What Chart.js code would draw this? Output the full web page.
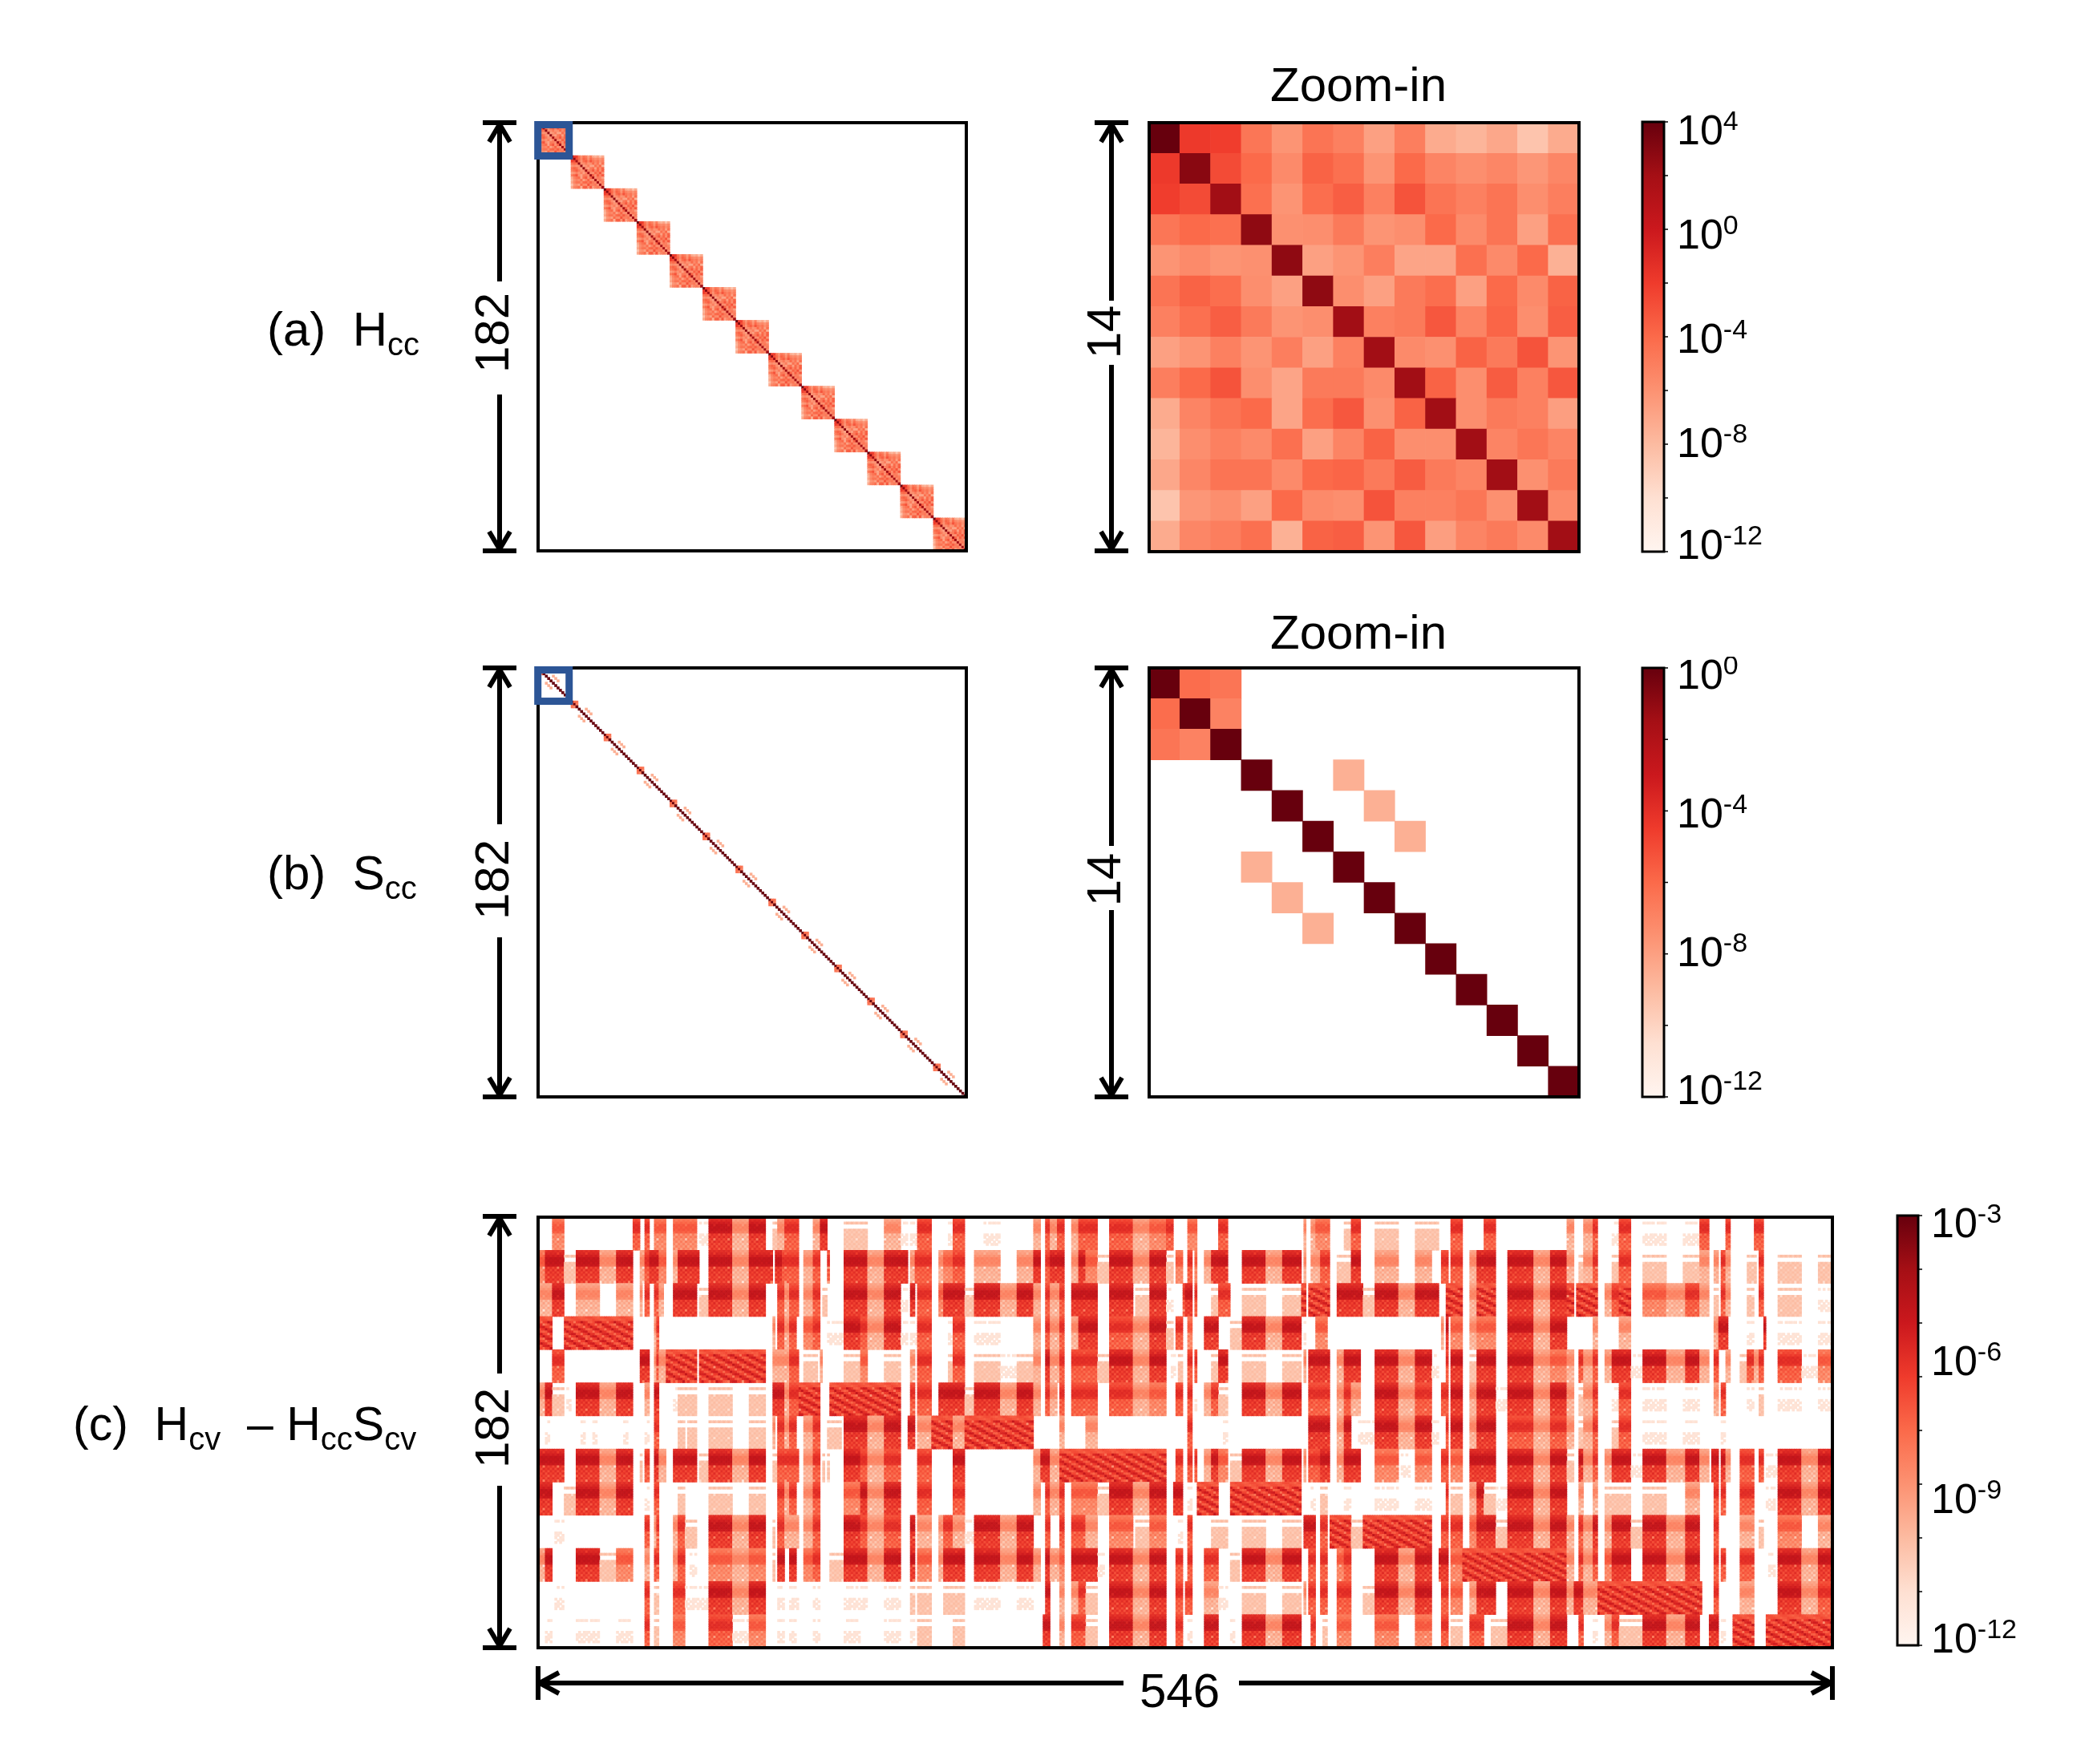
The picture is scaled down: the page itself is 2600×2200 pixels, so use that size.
<!DOCTYPE html>
<html><head><meta charset="utf-8">
<style>html,body{margin:0;padding:0;background:#fff}canvas{position:absolute}</style>
<script src="https://cdn.jsdelivr.net/npm/chart.js@4"></script>
</head><body>
<script>
// ---------- data (log10 of the magnitudes) ----------
const hccZoomLog = [
[4,-1.9,-2.1,-4.6,-6.1,-4.5,-5.1,-6.7,-5,-7.2,-7.7,-7,-8.5,-7.2],
[-1.9,2.9,-2.7,-4,-5.6,-3.7,-4.3,-6.1,-4,-5.3,-5.8,-5.4,-6.2,-5.4],
[-2.1,-2.7,2.1,-4.3,-6.1,-4.2,-3.5,-5.1,-3,-4.5,-5.1,-4.5,-5.8,-5],
[-4.6,-4,-4.3,2.7,-5.9,-5.8,-4.8,-6.1,-5.8,-4,-5.6,-4.5,-6.7,-4.3],
[-6.1,-5.6,-6.1,-5.9,2.7,-6.7,-6.1,-5,-6.9,-6.9,-4.3,-5.6,-4,-7.5],
[-4.5,-3.7,-4.2,-5.8,-6.7,2.7,-5.8,-6.7,-4.8,-4.2,-6.7,-4,-5.6,-3.7],
[-5.1,-4.3,-3.5,-4.8,-6.1,-5.8,2.1,-5.1,-4.8,-3.2,-5.3,-3.8,-5.8,-3.5],
[-6.7,-6.1,-5.1,-6.1,-5,-6.7,-5.1,2.1,-5.6,-5.9,-3.7,-4.8,-3,-6.1],
[-5,-4,-3,-5.8,-6.9,-4.8,-4.8,-5.6,2.1,-3.7,-5.8,-3.4,-5.1,-3.2],
[-7.2,-5.3,-4.5,-4,-6.9,-4.2,-3.2,-5.9,-3.7,2.1,-5.8,-4.8,-5.1,-6.6],
[-7.7,-5.8,-5.1,-5.6,-4.3,-6.7,-5.3,-3.7,-5.8,-5.8,2.1,-5.3,-4.6,-5.3],
[-7,-5.4,-4.5,-4.5,-5.6,-4,-3.8,-4.8,-3.4,-4.8,-5.3,2.1,-5.9,-4.8],
[-8.5,-6.2,-5.8,-6.7,-4,-5.6,-5.8,-3,-5.1,-5.1,-4.6,-5.9,2.1,-5.6],
[-7.2,-5.4,-5,-4.3,-7.5,-3.7,-3.5,-6.1,-3.2,-6.6,-5.3,-4.8,-5.6,2.1]];
const n=null, o=0, q=-8.6;
const sccZoomLog = [
[o,-6.1,-6.4,n,n,n,n,n,n,n,n,n,n,n],
[-6.1,o,-6.9,n,n,n,n,n,n,n,n,n,n,n],
[-6.4,-6.9,o,n,n,n,n,n,n,n,n,n,n,n],
[n,n,n,o,n,n,q,n,n,n,n,n,n,n],
[n,n,n,n,o,n,n,q,n,n,n,n,n,n],
[n,n,n,n,n,o,n,n,q,n,n,n,n,n],
[n,n,n,q,n,n,o,n,n,n,n,n,n,n],
[n,n,n,n,q,n,n,o,n,n,n,n,n,n],
[n,n,n,n,n,q,n,n,o,n,n,n,n,n],
[n,n,n,n,n,n,n,n,n,o,n,n,n,n],
[n,n,n,n,n,n,n,n,n,n,o,n,n,n],
[n,n,n,n,n,n,n,n,n,n,n,o,n,n],
[n,n,n,n,n,n,n,n,n,n,n,n,o,n],
[n,n,n,n,n,n,n,n,n,n,n,n,n,o]];

// Panel (c): for each of the 13 row blocks, runs [firstColumn, endColumn, levelCode]
const cvRow0=[[6,11,3],[40,43,4],[45,47,4],[49,54,3],[57,67,3],[68,72,0],[72,82,5],[82,89,2],[89,96,5],[99,101,1],[101,104,2],[104,110,4],[116,119,2],[119,122,5],[129,139,1],[146,153,2],[153,156,0],[157,160,0],[160,166,4],[173,175,0],[175,180,4],[188,195,0],[209,212,2],[214,216,4],[216,219,2],[219,222,4],[225,228,2],[228,236,4],[241,251,4],[251,258,2],[258,265,3],[265,268,4],[274,278,3],[287,291,4],[323,324,2],[326,328,2],[328,334,3],[340,343,1],[343,347,4],[353,363,1],[370,380,1],[385,390,4],[399,404,4],[434,437,2],[441,445,2],[445,447,4],[453,456,0],[456,461,4],[466,476,0],[483,490,0],[490,494,4],[501,503,4],[513,517,4]];
const cvRow1=[[0,3,3],[3,11,5],[11,16,1],[16,26,5],[26,33,2],[33,40,5],[43,45,2],[45,47,4],[47,51,5],[51,54,3],[57,59,2],[59,68,5],[72,82,5],[82,89,2],[89,99,5],[100,103,5],[103,110,4],[112,116,2],[116,119,4],[122,123,4],[129,139,5],[139,146,2],[146,156,5],[157,159,2],[159,166,4],[169,171,2],[171,175,3],[175,180,4],[184,195,2],[202,209,2],[209,212,5],[214,216,4],[216,222,5],[225,228,2],[228,231,5],[231,236,3],[236,241,1],[241,251,5],[251,258,2],[258,265,5],[265,268,1],[269,272,3],[274,276,4],[277,278,3],[281,284,2],[284,291,5],[297,307,5],[307,314,2],[314,322,5],[323,324,2],[326,330,2],[330,334,4],[337,343,1],[343,347,5],[353,363,2],[370,377,2],[381,384,4],[385,390,4],[393,396,2],[396,404,5],[409,420,5],[420,427,2],[427,434,5],[434,437,2],[439,441,1],[441,445,2],[445,447,4],[453,456,1],[456,461,4],[466,476,1],[483,490,1],[490,494,2],[496,498,2],[499,501,4],[501,503,2],[510,514,1],[515,517,4],[523,533,1],[540,546,1]];
const cvRow2=[[0,6,2],[6,11,5],[16,26,2],[33,40,2],[43,44,2],[45,47,4],[49,51,4],[51,53,2],[57,67,5],[68,72,1],[72,82,5],[82,89,2],[89,96,5],[101,104,4],[104,106,2],[106,110,4],[112,116,2],[116,119,4],[120,122,1],[129,139,5],[139,146,2],[146,153,5],[153,156,0],[157,159,5],[160,166,4],[169,171,3],[171,180,5],[180,184,1],[184,195,5],[195,202,2],[202,209,5],[209,212,2],[214,216,4],[216,220,2],[220,222,4],[225,236,5],[241,251,5],[252,258,1],[258,265,5],[265,268,0],[272,273,4],[273,276,5],[277,278,4],[284,287,1],[287,292,4],[297,307,1],[314,322,1],[322,324,9],[325,334,9],[337,348,5],[348,353,1],[353,363,5],[363,370,2],[370,380,5],[383,390,9],[393,396,2],[396,404,9],[409,420,5],[420,427,2],[427,434,5],[434,437,9],[438,447,9],[450,453,2],[453,456,4],[456,461,9],[466,476,3],[476,484,2],[484,490,4],[490,494,2],[496,498,1],[499,501,4],[501,503,2],[510,513,1],[515,517,4],[523,533,1],[540,546,0]];
const cvRow3=[[0,6,9],[11,40,9],[49,50,2],[50,51,4],[99,100,2],[101,104,4],[104,106,2],[106,109,4],[112,116,3],[116,119,4],[122,129,0],[129,136,5],[136,139,4],[139,146,2],[146,153,5],[153,156,0],[157,160,0],[160,166,4],[173,175,0],[175,180,4],[184,195,0],[209,212,2],[214,216,4],[216,220,2],[220,222,4],[225,228,2],[228,236,5],[241,251,4],[251,258,2],[258,265,5],[265,268,1],[269,272,4],[274,276,3],[281,287,5],[292,297,1],[297,307,5],[307,314,2],[314,322,5],[323,324,0],[328,333,3],[381,382,2],[383,384,5],[385,390,3],[393,396,2],[396,404,3],[409,420,5],[420,427,2],[427,434,5],[445,447,2],[456,461,2],[496,498,2],[498,502,5],[510,513,0],[517,518,5],[523,533,0],[540,546,0]];
const cvRow4=[[6,11,4],[43,47,5],[49,50,2],[50,51,4],[51,54,2],[54,67,9],[68,96,9],[99,101,2],[101,106,2],[106,110,4],[112,118,1],[119,120,2],[129,136,1],[136,139,3],[146,153,1],[157,159,2],[160,166,4],[173,175,1],[175,180,4],[184,195,1],[195,202,0],[202,209,1],[209,212,2],[214,216,5],[216,220,2],[220,222,4],[225,236,4],[236,241,1],[241,251,5],[251,258,2],[258,265,5],[267,269,0],[270,272,1],[274,276,4],[277,278,4],[284,287,1],[287,291,5],[297,307,1],[314,322,1],[323,324,2],[325,334,5],[337,340,2],[340,347,5],[353,363,5],[363,370,2],[370,377,5],[377,380,0],[383,384,4],[385,390,5],[393,396,1],[396,404,5],[409,420,5],[420,427,2],[427,434,3],[434,437,2],[439,441,4],[441,445,2],[445,447,4],[450,453,2],[453,461,5],[461,466,0],[466,476,5],[476,484,2],[484,490,5],[490,494,2],[496,498,4],[501,503,2],[507,510,1],[510,513,4],[513,515,2],[515,517,4],[523,533,4],[533,540,0],[540,546,3]];
const cvRow5=[[0,3,2],[3,6,5],[6,11,1],[12,14,0],[16,26,5],[26,33,2],[33,40,5],[45,47,2],[49,51,5],[57,59,0],[59,67,1],[72,82,1],[89,96,1],[99,104,5],[104,106,2],[106,110,4],[110,119,9],[123,153,9],[157,159,4],[160,166,4],[169,180,5],[180,184,1],[184,195,5],[195,202,2],[202,209,5],[209,212,2],[214,216,4],[216,219,2],[220,222,4],[225,236,4],[241,251,4],[251,258,2],[258,265,3],[269,272,4],[274,276,4],[277,278,0],[281,284,2],[284,287,4],[287,291,1],[297,307,5],[307,314,2],[314,322,5],[325,334,4],[337,340,2],[340,343,4],[343,347,2],[353,363,5],[363,370,2],[370,377,4],[381,384,4],[385,390,5],[393,396,2],[396,404,5],[404,409,0],[409,420,5],[420,427,2],[427,434,5],[434,437,2],[439,441,1],[441,445,2],[445,447,4],[453,456,0],[456,461,4],[466,476,0],[483,490,0],[496,498,2],[499,501,4],[510,513,0],[515,517,1],[523,533,0],[540,546,0]];
const cvRow6=[[3,5,0],[18,20,0],[23,25,0],[36,38,0],[45,47,0],[49,51,4],[59,62,1],[63,67,1],[72,82,1],[89,96,1],[99,100,2],[101,104,4],[104,106,2],[106,109,4],[112,116,2],[116,119,4],[122,128,1],[129,139,5],[139,146,2],[146,153,5],[156,159,5],[160,166,2],[166,175,9],[175,180,2],[180,209,9],[220,222,2],[231,236,2],[274,276,4],[289,291,0],[325,334,5],[337,340,2],[340,343,5],[346,353,0],[353,363,5],[363,370,2],[370,377,5],[377,380,0],[383,384,4],[385,390,5],[393,396,2],[396,404,5],[409,420,4],[420,427,2],[427,434,4],[434,437,2],[439,441,1],[441,445,2],[445,447,4],[453,456,1],[456,461,4],[466,476,0],[483,490,0],[499,501,0]];
const cvRow7=[[0,11,5],[16,26,5],[26,33,2],[33,40,5],[43,44,1],[45,47,4],[49,51,5],[51,54,2],[57,67,5],[68,72,1],[72,82,5],[82,89,2],[89,96,5],[99,101,1],[101,110,4],[112,116,2],[116,119,4],[120,121,1],[122,123,1],[129,136,5],[136,139,4],[139,146,2],[146,153,4],[160,166,4],[175,180,5],[209,212,2],[212,216,5],[216,220,2],[220,265,9],[269,272,4],[274,276,4],[277,278,4],[281,284,2],[284,287,5],[287,291,3],[292,297,1],[297,307,5],[307,314,2],[314,322,5],[323,324,2],[325,330,4],[330,334,5],[337,340,2],[340,347,5],[353,363,3],[364,368,0],[370,377,3],[381,384,4],[385,390,3],[393,404,5],[409,420,5],[420,427,2],[427,434,5],[434,437,1],[439,441,5],[441,445,2],[445,447,4],[450,453,2],[453,461,5],[461,466,0],[466,476,5],[476,484,2],[484,490,5],[490,494,2],[495,498,5],[499,501,5],[501,503,2],[507,513,4],[515,517,4],[518,523,0],[523,533,5],[533,540,2],[540,546,5]];
const cvRow8=[[0,6,5],[11,16,1],[16,26,5],[26,33,2],[33,40,5],[45,47,0],[49,51,4],[59,62,1],[72,82,1],[89,96,1],[101,104,4],[104,106,2],[106,109,4],[112,116,2],[116,119,4],[129,136,3],[136,139,5],[139,146,2],[146,153,5],[160,166,4],[175,180,4],[209,212,2],[214,216,4],[216,220,2],[220,222,4],[225,236,3],[236,241,1],[241,251,5],[251,258,2],[258,265,5],[268,272,5],[274,276,0],[278,287,9],[292,322,9],[326,328,0],[330,333,1],[340,343,0],[353,363,0],[370,377,0],[383,384,4],[385,390,1],[393,396,2],[396,399,5],[399,404,1],[404,409,0],[409,420,5],[420,427,2],[427,434,5],[439,441,2],[445,447,2],[450,461,1],[466,476,1],[484,490,2],[496,498,4],[499,501,4],[507,513,4],[518,522,0],[523,533,5],[533,540,2],[540,546,5]];
const cvRow9=[[7,11,0],[45,47,4],[49,50,2],[50,51,4],[57,59,2],[59,62,4],[62,67,1],[72,82,5],[82,89,2],[89,96,5],[99,100,1],[101,104,4],[104,110,2],[112,116,2],[116,119,4],[129,136,5],[136,139,4],[139,146,2],[146,153,4],[157,159,5],[160,166,2],[169,171,2],[171,175,4],[175,180,2],[180,184,0],[184,195,5],[195,202,2],[202,209,5],[214,216,4],[220,222,4],[225,231,4],[231,236,2],[241,251,3],[252,258,1],[258,265,3],[270,272,0],[274,276,4],[284,291,1],[297,307,1],[314,322,1],[323,328,5],[330,333,4],[334,343,9],[343,348,1],[348,377,9],[381,384,4],[385,390,4],[393,396,3],[396,404,5],[404,409,1],[409,420,5],[420,427,2],[427,434,5],[434,437,2],[439,441,4],[441,445,2],[445,447,5],[450,453,2],[453,461,5],[461,466,1],[466,476,5],[476,484,2],[484,490,5],[496,498,4],[507,513,2],[515,517,1],[523,533,3],[540,546,2]];
const cvRow10=[[0,3,2],[3,6,5],[16,26,5],[26,33,1],[33,40,3],[45,47,2],[49,51,4],[57,59,2],[59,62,4],[64,67,0],[72,82,3],[82,89,2],[89,96,3],[99,100,1],[101,104,5],[106,109,5],[112,116,3],[116,119,4],[123,129,1],[129,139,5],[139,146,2],[146,153,5],[157,159,5],[160,166,3],[169,171,2],[171,180,5],[184,195,5],[195,202,2],[202,209,5],[209,212,2],[214,216,5],[216,220,2],[220,222,3],[225,236,5],[236,239,0],[241,251,5],[251,258,2],[258,265,5],[269,272,4],[274,276,4],[281,287,4],[292,296,1],[297,307,5],[307,314,2],[314,322,5],[325,328,4],[330,333,4],[337,340,3],[340,343,4],[353,363,5],[363,370,2],[370,377,5],[380,384,5],[385,390,3],[390,434,9],[434,437,2],[439,441,4],[441,445,2],[445,447,4],[450,453,3],[453,461,5],[466,476,5],[476,484,2],[484,490,5],[496,498,4],[499,501,4],[507,513,4],[519,522,0],[523,533,5],[533,540,2],[540,546,5]];
const cvRow11=[[7,11,0],[45,47,4],[49,51,1],[57,62,4],[62,72,0],[72,82,5],[82,89,2],[89,96,5],[101,104,0],[106,110,0],[116,119,0],[129,139,0],[146,153,0],[157,159,1],[160,166,1],[171,180,1],[184,195,0],[202,209,0],[214,216,5],[220,222,2],[225,228,2],[228,231,4],[231,236,1],[241,251,5],[251,258,2],[258,265,5],[269,272,4],[273,276,4],[281,287,2],[287,291,0],[297,307,1],[314,322,1],[323,324,2],[325,328,4],[330,333,4],[337,343,4],[348,353,1],[353,363,5],[363,370,2],[370,377,5],[381,384,4],[385,390,3],[393,396,2],[396,404,5],[409,420,5],[420,427,2],[427,434,5],[434,437,2],[437,441,5],[441,447,2],[447,491,9],[496,498,4],[507,513,2],[523,533,5],[533,540,2],[540,546,4]];
const cvRow12=[[3,6,0],[16,26,0],[33,40,0],[45,47,4],[49,51,1],[57,62,3],[72,82,4],[82,89,0],[89,96,3],[101,104,0],[106,109,0],[116,119,0],[129,136,0],[146,153,0],[157,159,0],[160,166,1],[175,180,1],[213,216,5],[220,222,2],[225,231,4],[231,236,1],[241,251,5],[251,258,2],[258,265,5],[269,272,4],[274,276,0],[281,287,5],[292,294,0],[297,307,5],[307,314,2],[314,322,5],[326,328,4],[331,333,1],[337,343,3],[353,363,3],[370,377,3],[381,384,4],[385,390,1],[393,399,4],[402,409,1],[409,420,5],[420,427,2],[427,434,5],[439,441,4],[445,447,0],[450,453,2],[453,456,4],[456,466,1],[466,476,5],[476,484,2],[484,490,5],[494,498,5],[499,501,0],[504,513,9],[518,546,9]];
const cvRows=[cvRow0,cvRow1,cvRow2,cvRow3,cvRow4,cvRow5,cvRow6,cvRow7,cvRow8,cvRow9,cvRow10,cvRow11,cvRow12];
// log10 level of each code 0..5 (faint, pale, light, mid, red, dark)
const cvLevels=[-11,-9.9,-8.2,-7,-5.9,-5];
const cvDiagLevel=-6.1;
// log10 shift of the 14 rows inside a block (seen in every block)
const cvRowShape=[-.9,-.7,-.4,0,0,0,-.2,-1.1,-1,-1.2,-1.1,-1.3,-1.2,-1.3];
const cvFaintRows=[2,7,8,9,10,11];
const cvPaleRows=[2,5,6,7,8,9,10,11,12,13];
// log10 weave seen as dither in the blocks, and the stripe profile of the diagonal blocks
const cvWeave=[[0,-.5,.2,-.7,.1,-.4],[-.6,.2,-.3,.1,-.8,.2],[.2,-.4,.1,-.6,.2,-.3],[-.5,.1,-1.8,.2,-.4,.1],[.1,-.7,.2,-.3,.1,-.6],[-.3,.2,-.5,.1,-.6,.2]];
const cvStripe=[1.1,.6,-.2,-.9,-1.7,-.6,.2];
const atomSize=14, atomCount=13, cvCols=546;

const hccTicks=[4,2,0,-2,-4,-6,-8,-10,-12], hccLabels=[4,0,-4,-8,-12];
const sccTicks=[0,-2,-4,-6,-8,-10,-12], sccLabels=[0,-4,-8,-12];
const cvTicks=[-3,-4.125,-5.25,-6.375,-7.5,-8.625,-9.75,-10.875,-12], cvLabels=[-3,-6,-9,-12];
const redsStops=['#fff5f0','#fee0d2','#fcbba1','#fc9272','#fb6a4a','#ef3b2c','#cb181d','#a50f15','#67000d'];

// ---------- helpers ----------
const FONT='"Liberation Sans",Arial,sans-serif', PAD=14;
const rgb=redsStops.map(h=>[1,3,5].map(i=>parseInt(h.substr(i,2),16)));
function reds(p){p=Math.max(0,Math.min(1,p))*8;const i=Math.min(7,Math.floor(p)),f=p-i;
  const c=[0,1,2].map(k=>Math.round(rgb[i][k]+(rgb[i+1][k]-rgb[i][k])*f));return `rgb(${c[0]},${c[1]},${c[2]})`;}
function cellsFromMatrix(m,repeat,lo,hi){const data=[],colors=[];
  for(let b=0;b<repeat;b++)m.forEach((row,r)=>row.forEach((v,c)=>{if(v===null)return;
    data.push({x:b*m.length+c+.5,y:[b*m.length+r,b*m.length+r+1]});colors.push(reds((v-lo)/(hi-lo)));}));
  return {data,colors};}
function cvCells(){const data=[],colors=[];
  cvRows.forEach((runs,R)=>runs.forEach(([s,e,code])=>{for(let c=s;c<e;c++)for(let r=0;r<atomSize;r++){
    const t=cvWeave[(R*atomSize+r)%6][c%6];let v;
    if(code===9){v=cvDiagLevel+cvStripe[((c-r*2)%7+7)%7]*(r<2?.2:.8)+t*(r<2?.15:.7)+(r<2?-.8:.1);}
    else if(code===0){if(!cvFaintRows.includes(r)||t<-.45)continue;v=cvLevels[0]+t*.4;}
    else if(code===1){if(!cvPaleRows.includes(r))continue;v=cvLevels[1]+t*.5;}
    else v=cvLevels[code]+cvRowShape[r]+(r>=7?t:t*.35);
    data.push({x:c+.5,y:[R*atomSize+r,R*atomSize+r+1]});colors.push(reds((v+12)/9));
  }}));return {data,colors};}
function canvasAt(x,y,w,h){const c=document.createElement('canvas');c.width=w;c.height=h;
  c.style.cssText=`left:${x}px;top:${y}px;width:${w}px;height:${h}px`;document.body.appendChild(c);return c;}
const framePlugin={id:'frame',afterDraw(ch,a,o){const {left,top,width,height}=ch.chartArea,x=ch.ctx;
  x.save();x.strokeStyle='#000';x.lineWidth=4;x.strokeRect(left,top,width,height);
  const b=o.box;if(b){const sx=ch.scales.x,sy=ch.scales.y;x.strokeStyle='#2c5596';x.lineWidth=9;
    x.strokeRect(sx.getPixelForValue(b[0]),sy.getPixelForValue(b[2]),sx.getPixelForValue(b[1])-sx.getPixelForValue(b[0]),sy.getPixelForValue(b[3])-sy.getPixelForValue(b[2]));}
  x.restore();}};
function heat(L,T,W,H,cols,rows,cells,box){
  new Chart(canvasAt(L-PAD,T-PAD,W+2*PAD,H+2*PAD),{type:'bar',
    data:{datasets:[{data:cells.data,backgroundColor:cells.colors,borderWidth:0,barPercentage:1,categoryPercentage:1}]},
    options:{responsive:false,animation:false,devicePixelRatio:1,events:[],layout:{padding:PAD},
      plugins:{legend:{display:false},tooltip:{enabled:false},frame:{box}},
      scales:{x:{type:'linear',min:0,max:cols,offset:false,display:false},y:{type:'linear',min:0,max:rows,reverse:true,display:false}}},
    plugins:[framePlugin]});}
const cbPlugin={id:'cb',afterDraw(ch,a,o){const x=ch.ctx,s=ch.scales.y,A=ch.chartArea;x.save();
  x.strokeStyle='#000';x.lineWidth=3;x.strokeRect(A.left,A.top,A.width,A.height);
  x.lineWidth=1.5;o.ticks.forEach(t=>{const p=s.getPixelForValue(t);x.beginPath();x.moveTo(A.right,p);x.lineTo(A.right+5,p);x.stroke();});
  x.fillStyle='#000';x.textBaseline='alphabetic';x.textAlign='left';
  o.labels.forEach((e,i)=>{const b=s.getPixelForValue(e)+o.shift[i],lx=A.right+16;
    x.font=`52px ${FONT}`;x.fillText('10',lx,b);const w=x.measureText('10').width;
    x.font=`34px ${FONT}`;x.fillText(String(e),lx+w,b-18);});
  x.restore();}};
function colorbar(L,T,W,H,lo,hi,ticks,labels,shift){
  new Chart(canvasAt(L-PAD,T-PAD,W+PAD+180,H+2*PAD+30),{type:'bar',
    data:{labels:[''],datasets:[{data:[[lo,hi]],borderWidth:0,barPercentage:1,categoryPercentage:1,
      backgroundColor(c){const A=c.chart.chartArea;if(!A)return '#000';const g=c.chart.ctx.createLinearGradient(0,A.bottom,0,A.top);
        redsStops.forEach((s,i)=>g.addColorStop(i/8,s));return g;}}]},
    options:{responsive:false,animation:false,devicePixelRatio:1,events:[],layout:{padding:{left:PAD,top:PAD,right:180,bottom:PAD+30}},
      plugins:{legend:{display:false},tooltip:{enabled:false},cb:{ticks,labels,shift}},
      scales:{x:{display:false},y:{min:lo,max:hi,display:false}}},plugins:[cbPlugin]});}

// ---------- panels ----------
const zoomBox=[-.1,13.2,.85,14.14];
heat(671,153,534,534,182,182,cellsFromMatrix(hccZoomLog,atomCount,-12,4),zoomBox);
heat(1433,153,536,535,14,14,cellsFromMatrix(hccZoomLog,1,-12,4));
colorbar(2048,152,27,536,-12,4,hccTicks,hccLabels,[28,24,20,16,9]);
heat(671,833,534,535,182,182,cellsFromMatrix(sccZoomLog,atomCount,-12,0),zoomBox);
heat(1433,833,536,535,14,14,cellsFromMatrix(sccZoomLog,1,-12,0));
colorbar(2048,833,27,535,-12,0,sccTicks,sccLabels,[26,21,15,9]);
heat(671,1518,1614,537,cvCols,atomSize*atomCount,cvCells());
colorbar(2366,1516,26,536,-12,-3,cvTicks,cvLabels,[27,20,14,9]);

// ---------- annotations: dimension arrows and labels ----------
const vArrows=[[623,153,687,351,492,'182',415],[1386,153,687,375,455,'14',414],
  [623,833,1368,1028,1169,'182',1097],[1386,833,1368,1055,1135,'14',1097],[623,1517,2055,1713,1853,'182',1781]];
const titleTexts=[['Zoom-in',1694,126],['Zoom-in',1694,809]];
const sideLabels=[
  [333,431,60,[['(a)  H',0],['cc',1]]],
  [333,1109,60,[['(b)  S',0],['cc',1]]],
  [91,1796,59,[['(c)  H',0],['cv',1],['  – H',0],['cc',1],['S',0],['cv',1]]]];
const annot={id:'annot',afterDraw(ch){const x=ch.ctx;x.save();x.strokeStyle='#000';x.fillStyle='#000';x.lineWidth=6;x.lineCap='butt';
  const seg=(a,b,c,d)=>{x.beginPath();x.moveTo(a,b);x.lineTo(c,d);x.stroke();};
  vArrows.forEach(([ax,t,b,g0,g1,txt,cy])=>{seg(ax,t,ax,g0);seg(ax,g1,ax,b);seg(ax-21,t,ax+21,t);seg(ax-21,b,ax+21,b);
    seg(ax-13,t+24,ax,t+2);seg(ax+13,t+24,ax,t+2);seg(ax-13,b-24,ax,b-2);seg(ax+13,b-24,ax,b-2);
    x.save();x.translate(ax-6,cy);x.rotate(-Math.PI/2);x.font=`60px ${FONT}`;x.textAlign='center';x.textBaseline='middle';x.fillText(txt,0,0);x.restore();});
  const hy=2099,l=671,r=2285;seg(l,hy,1401,hy);seg(1545,hy,r,hy);seg(l,hy-21,l,hy+21);seg(r,hy-21,r,hy+21);
  seg(l+26,hy-13,l+2,hy);seg(l+26,hy+13,l+2,hy);seg(r-26,hy-13,r-2,hy);seg(r-26,hy+13,r-2,hy);
  x.textAlign='center';x.textBaseline='alphabetic';x.font=`60px ${FONT}`;x.fillText('546',1471,2129);
  titleTexts.forEach(([t,a,b])=>x.fillText(t,a,b));
  x.textAlign='left';sideLabels.forEach(([a,b,sz,parts])=>{let px=a;parts.forEach(([t,sub])=>{x.font=`${sub?40:sz}px ${FONT}`;x.fillText(t,px,b+(sub?12:0));px+=x.measureText(t).width;});});
  x.restore();}};
new Chart(canvasAt(0,0,2600,2200),{type:'bar',data:{labels:[],datasets:[]},
  options:{responsive:false,animation:false,devicePixelRatio:1,events:[],plugins:{legend:{display:false},tooltip:{enabled:false}},
    scales:{x:{display:false},y:{display:false}}},plugins:[annot]});
</script>
</body></html>
